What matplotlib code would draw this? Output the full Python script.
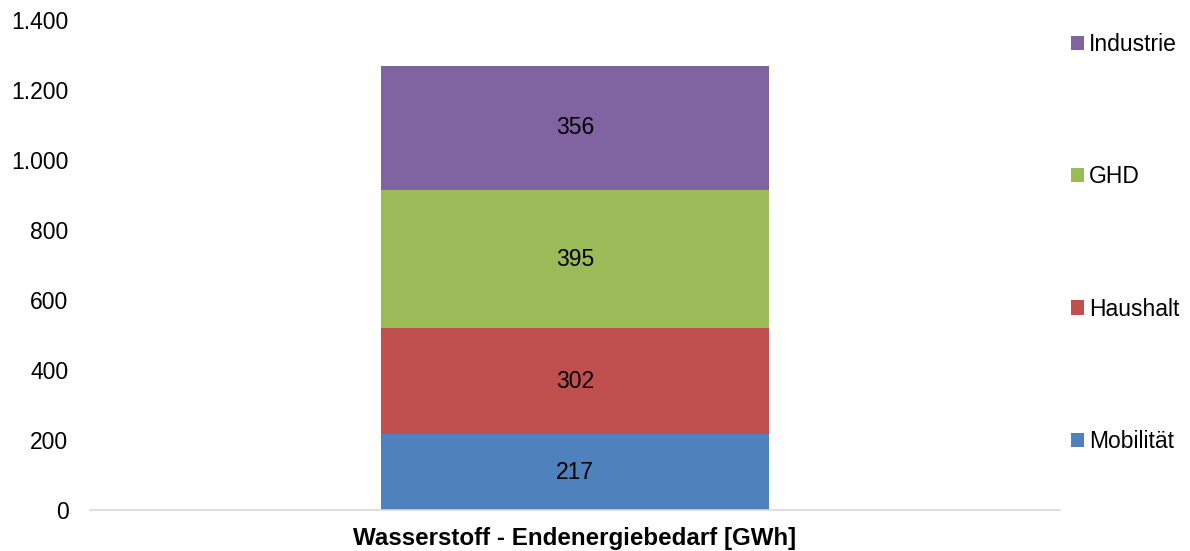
import matplotlib
matplotlib.use("Agg")
import matplotlib.pyplot as plt
from matplotlib.patches import Patch

plt.rcParams['font.family'] = ['Liberation Sans', 'DejaVu Sans']

category = "Wasserstoff - Endenergiebedarf [GWh]"
sectors = ["Mobilität", "Haushalt", "GHD", "Industrie"]
values = [217, 302, 395, 356]
colors = ["#4F81BD", "#C0504D", "#9BBB59", "#8064A2"]
yticks = [0, 200, 400, 600, 800, 1000, 1200, 1400]
ytick_labels = ["0", "200", "400", "600", "800", "1.000", "1.200", "1.400"]

FS = 16.5

fig = plt.figure(figsize=(11.9, 5.51), dpi=100)
ax = fig.add_axes([90 / 1190, 41 / 551, 970 / 1190, 490 / 551])

bottom = 0
for name, val, col in zip(sectors, values, colors):
    ax.bar(0, val, width=0.4, bottom=bottom, color=col, label=name)
    ax.text(0, bottom + val / 2, str(val), ha="center", va="center",
            fontsize=FS, color="black")
    bottom += val

ax.set_xlim(-0.5, 0.5)
ax.set_ylim(0, 1400)
ax.set_yticks(yticks)
ax.set_yticklabels(ytick_labels, fontsize=FS)
ax.set_xticks([0])
ax.set_xticklabels([category], fontsize=17.4, fontweight="bold")
ax.tick_params(axis="y", length=0, pad=15.5)
ax.tick_params(axis="x", length=0, pad=12)

for side in ["left", "right", "top"]:
    ax.spines[side].set_visible(False)
ax.spines["bottom"].set_color("#D9D9D9")
ax.spines["bottom"].set_linewidth(1.2)

handles = [Patch(facecolor=c, edgecolor="none") for c in colors][::-1]
labels = sectors[::-1]
fig.legend(handles, labels, loc="upper left", bbox_to_anchor=(1071 / 1190, 1 - 33 / 551),
           frameon=False, fontsize=FS, handlelength=0.57, handleheight=0.57,
           handletextpad=0.2, labelspacing=4.77, borderaxespad=0, borderpad=0)

fig.savefig("out.png", dpi=100)
